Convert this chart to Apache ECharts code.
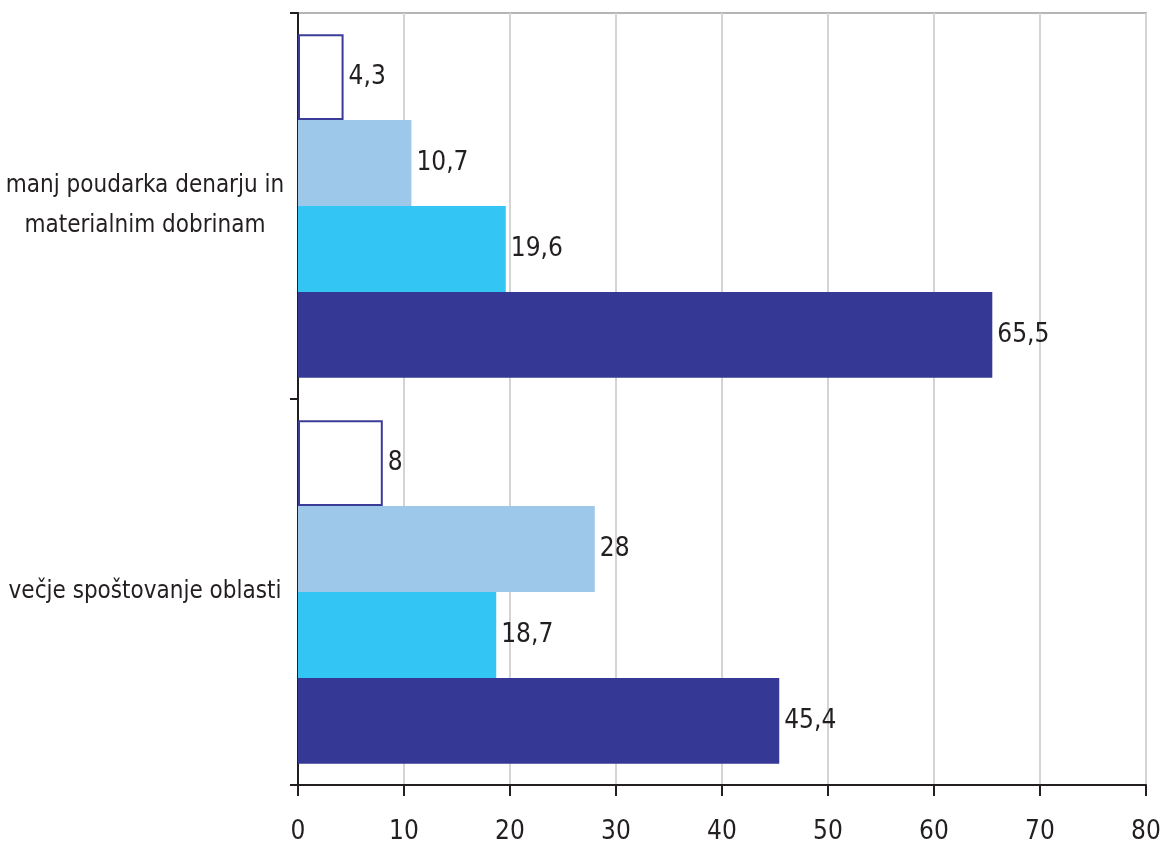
<!DOCTYPE html>
<html>
<head>
<meta charset="utf-8">
<script src="https://cdn.jsdelivr.net/npm/echarts@6/dist/echarts.min.js"></script>
<style>
html,body{margin:0;padding:0;background:#fff;}
#c{width:1163px;height:849px;}
</style>
</head>
<body>
<div id="c"></div>
<script>
const categories = ['manj poudarka denarju in\nmaterialnim dobrinam', 'večje spoštovanje oblasti'];
const seriesWhite = [4.3, 8];
const seriesLightBlue = [10.7, 28];
const seriesCyan = [19.6, 18.7];
const seriesNavy = [65.5, 45.4];
const xTicks = [0, 10, 20, 30, 40, 50, 60, 70, 80];

const FONT = "'DejaVu Sans Condensed','Liberation Sans Narrow',sans-serif";
const labelCfg = {
  show: true, position: 'right', distance: 5,
  color: '#231f20', fontSize: 26, fontFamily: FONT,
  formatter: p => String(p.value).replace('.', ',')
};
function mk(data, color, border) {
  return {
    type: 'bar', data: data, barGap: '0%', barCategoryGap: '11%',
    itemStyle: border ? { color: '#fff', borderColor: '#3b3c98', borderWidth: 2 } : { color: color },
    label: labelCfg, silent: true, animation: false
  };
}
const chart = echarts.init(document.getElementById('c'), null, { renderer: 'canvas' });
chart.setOption({
  animation: false,
  grid: { left: 298, right: 17, top: 13, bottom: 64, outerBoundsMode: 'none', containLabel: false, show: true, borderColor: '#b5b5b5', borderWidth: 2, backgroundColor: 'transparent' },
  xAxis: {
    type: 'value', min: xTicks[0], max: xTicks[xTicks.length - 1], interval: 10,
    axisLine: { show: true, lineStyle: { color: '#231f20', width: 2 } },
    axisTick: { show: true, length: 11, lineStyle: { color: '#231f20', width: 2 } },
    axisLabel: { color: '#231f20', fontSize: 26, fontFamily: FONT, margin: 34 },
    splitLine: { show: true, lineStyle: { color: '#d4d4d4', width: 2 } }
  },
  yAxis: {
    type: 'category', data: categories, inverse: true,
    axisLine: { show: true, lineStyle: { color: '#231f20', width: 2 } },
    axisTick: { show: true, length: 8, lineStyle: { color: '#231f20', width: 2 } },
    axisLabel: { color: '#231f20', fontSize: 24, fontFamily: FONT, align: 'center', margin: 153, lineHeight: 40 },
    splitLine: { show: false }
  },
  series: [
    mk(seriesWhite, '#fff', true),
    mk(seriesLightBlue, '#9dc8ea'),
    mk(seriesCyan, '#33c5f3'),
    mk(seriesNavy, '#353894')
  ]
});
</script>
</body>
</html>
